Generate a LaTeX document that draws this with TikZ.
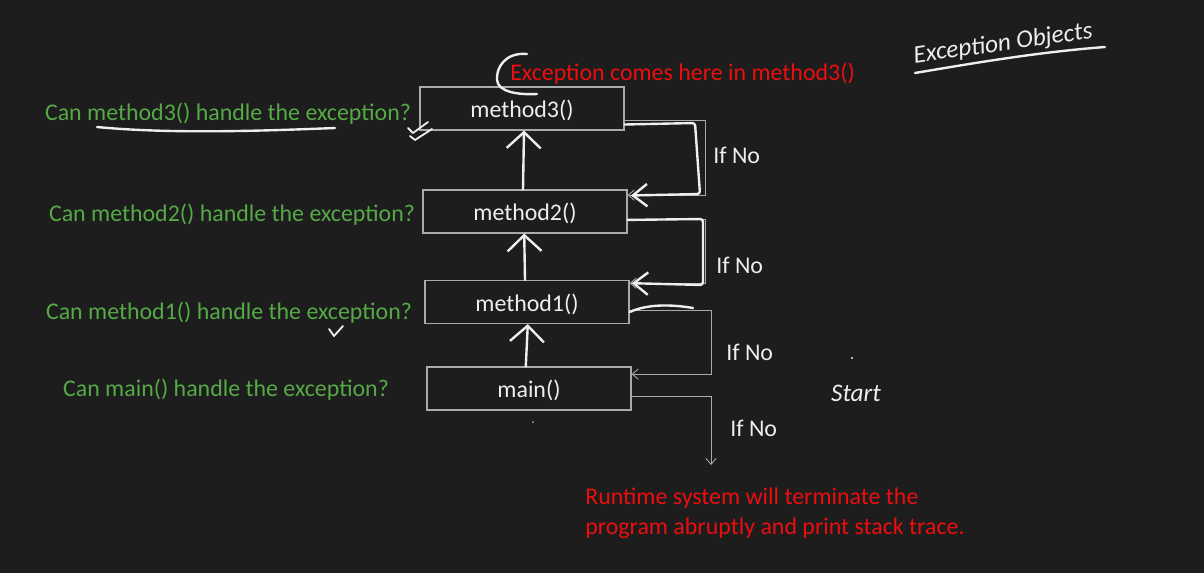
\documentclass[tikz,border=0pt]{standalone}
\usepackage{fontspec}
\setmainfont{Carlito}
\usepackage{tikz}
\usetikzlibrary{arrows.meta,positioning,calc}
\definecolor{slidebg}{RGB}{29,29,29}
\definecolor{askgreen}{RGB}{86,170,70}
\definecolor{alertred}{RGB}{236,14,14}
\definecolor{framegray}{RGB}{170,170,170}
\definecolor{inkwhite}{RGB}{238,238,238}
\newcommand{\slidefont}{\fontsize{17}{21.3}\selectfont}
\tikzset{
  methodbox/.style={rectangle,draw=framegray,line width=0.9pt,minimum width=5.1cm,minimum height=1.07cm,inner sep=0pt,text height=14.5pt,text depth=1.3pt,text=inkwhite,font=\slidefont},
  question/.style={text=askgreen,font=\slidefont,inner sep=0pt},
  alert/.style={text=alertred,font=\slidefont,inner sep=0pt},
  nolabel/.style={text=inkwhite,font=\slidefont,inner sep=0pt,anchor=west},
  passedge/.style={-{Straight Barb[length=1.5mm,width=2.6mm]},line width=0.6pt,draw=framegray},
  ink/.style={draw=inkwhite,line width=1.7pt,line cap=round,line join=round},
  inkarrow/.style={ink,-{Straight Barb[length=4mm,width=8.5mm,line width=1.7pt]}},
  inkloop/.style={ink,rounded corners=2pt,-{Straight Barb[length=3.6mm,width=5.6mm,line width=1.7pt]}},
  scrawl/.style={text=inkwhite,font=\fontsize{18}{20}\selectfont\itshape,inner sep=0pt}
}

\begin{document}
\begin{tikzpicture}[x=0.025cm,y=-0.025cm]
  \fill[slidebg] (0,0) rectangle (1204,573);
  \useasboundingbox (0,0) rectangle (1204,573);

  \node[methodbox] (m3)   at (522,108.5) {method3()};
  \node[methodbox] (m2)   at (525,211.5) {method2()};
  \node[methodbox] (m1)   at (527,302)   {method1()};
  \node[methodbox] (mn)   at (529,388.5) {main()};

  \node[question] (q3) at (228,114) {Can method3() handle the exception?};
  \node[question] (q2) at (232,215) {Can method2() handle the exception?};
  \node[question] (q1) at (229,313) {Can method1() handle the exception?};
  \node[question] (q0) at (226,390) {Can main() handle the exception?};

  \node[alert,anchor=west] (origin) at (510,74) {Exception comes here in method3()};
  \node[alert,anchor=north west,align=left,font=\slidefont] (crash) at (585,488)
    {Runtime system will terminate the\\program abruptly and print stack trace.};

  \coordinate (rail1) at (705,0);
  \coordinate (rail2) at (711,0);
  \coordinate (m3out) at ([yshift=-0.31cm]m3.east);
  \coordinate (m2in)  at ([yshift=0.41cm]m2.east);
  \coordinate (m2out) at ([yshift=-0.21cm]m2.east);
  \coordinate (m1in)  at ([yshift=0.47cm]m1.east);
  \coordinate (m1out) at ([yshift=-0.2cm]m1.east);
  \coordinate (mnin)  at ([yshift=0.36cm]mn.east);
  \coordinate (mnout) at ([yshift=-0.21cm]mn.east);
  \coordinate (halt)  at (711,465);

  \draw[passedge] (m3out) -- (m3out -| rail1) |- (m2in);
  \draw[passedge] (m2out) -- (m2out -| rail1) |- (m1in);
  \draw[passedge] (m1out) -- (m1out -| rail2) |- (mnin);
  \draw[passedge] (mnout) -| (halt);

  \foreach \y/\lab in {155/1,265/2,352/3,428/4}{
    \node[nolabel] (no\lab) at ({\lab<3 ? 710+3*\lab : 714+4*\lab},\y) {If No};
  }

  % pen strokes over the slide
  \draw[inkarrow] ([xshift=-0.05cm]m2.north) -- ([xshift=0.05cm]m3.south);
  \draw[inkarrow] ([xshift=-0.05cm]m1.north) -- ([xshift=-0.02cm]m2.south);
  \draw[inkarrow] ([xshift=-0.08cm]mn.north) -- ([xshift=0.02cm]m1.south);

  \draw[inkloop] ([yshift=-0.4cm]m3.east) -- (695,123) -- (700,194) -- ([xshift=0.08cm,yshift=0.4cm]m2.east);
  \draw[inkloop] (m2out) -- (703,219) -- (703,285) -- ([xshift=0.05cm,yshift=0.47cm]m1.east);
  \draw[ink] ([yshift=-0.25cm]m1.east) .. controls (650,303) and (675,305) .. (693,308);

  \draw[ink] (97,127) .. controls (170,134) and (260,131) .. (335,128);
  \draw[ink] (527,54) .. controls (505,52) and (496,68) .. (497,80)
    .. controls (498,92) and (518,95) .. (537,94);
  \draw[ink,line width=1.3pt] (408,128) -- (413,133) -- (428,122);
  \draw[ink,line width=1.3pt] (410,136) -- (415,140) -- (432,129);
  \draw[ink,line width=1.3pt] (329,329) -- (334,336) -- (343,326);

  \node[scrawl,rotate=8] (objs) at (1003,44) {Exception Objects};
  \draw[ink] (915,73) .. controls (980,62) and (1040,52) .. (1105,47);
  \node[scrawl] (start) at (856,393) {Start};
  \fill[inkwhite] (852,358) circle (1.2);
  \fill[framegray] (533,422) circle (1);
\end{tikzpicture}
\end{document}
